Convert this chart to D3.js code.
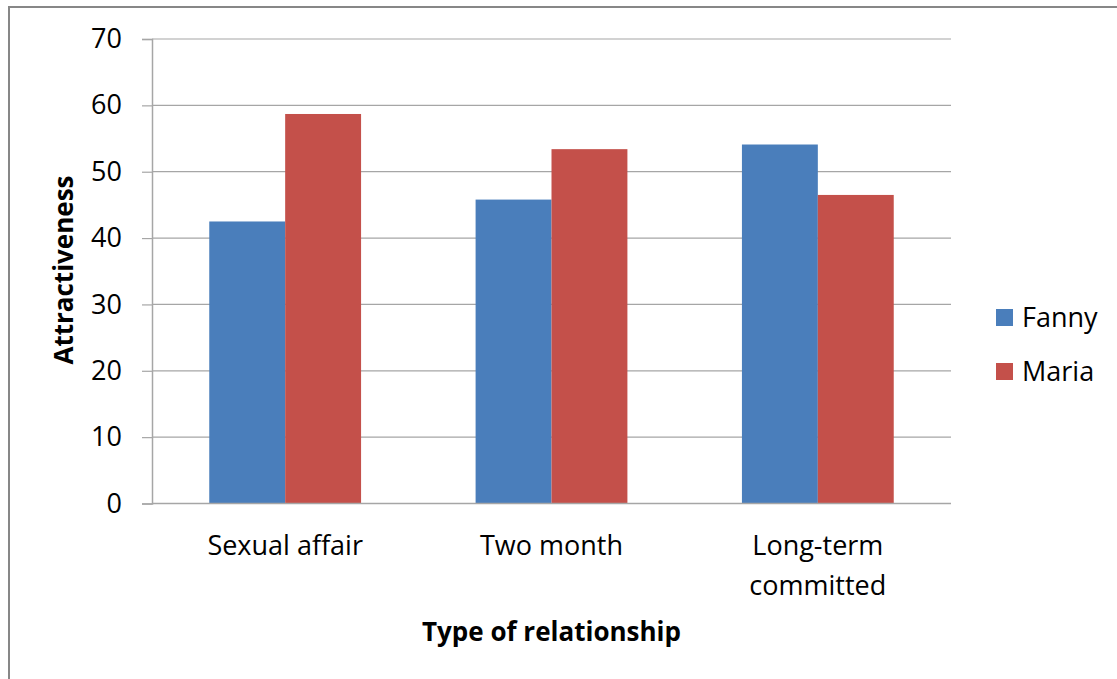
<!DOCTYPE html>
<html>
<head>
<meta charset="utf-8">
<script src="https://cdn.jsdelivr.net/npm/d3@7"></script>
<style>
  html, body { margin: 0; padding: 0; background: #fff; }
  svg { display: block; font-family: "Open Sans", sans-serif; }
</style>
</head>
<body>
<svg id="chart" width="1117" height="679"></svg>
<script>
const categories = ["Sexual affair", "Two month", "Long-term committed"];
const categoryLines = [["Sexual affair"], ["Two month"], ["Long-term", "committed"]];
const seriesNames = ["Fanny", "Maria"];
const fannyValues = [42.5, 45.8, 54.1];
const mariaValues = [58.7, 53.4, 46.5];
const yTicks = [0, 10, 20, 30, 40, 50, 60, 70];
const colors = ["#4A7EBB", "#C4504A"];

const FONT = "'Open Sans', sans-serif";
const FS = 27;
const FSB = 26;

const seriesValues = [fannyValues, mariaValues];
const svg = d3.select("#chart");

const plot = { left: 152, right: 951, top: 39, bottom: 503.5 };

// outer chart border
svg.append("rect")
  .attr("x", 9).attr("y", 7)
  .attr("width", 1200).attr("height", 800)
  .attr("fill", "none").attr("stroke", "#878787").attr("stroke-width", 2);

const x0 = d3.scaleBand()
  .domain(categories)
  .range([plot.left, plot.right])
  .paddingInner(0.43)
  .paddingOuter(0.215);

const x1 = d3.scaleBand()
  .domain(seriesNames)
  .range([0, x0.bandwidth()])
  .padding(0);

const y = d3.scaleLinear().domain([0, 70]).range([plot.bottom, plot.top]);

// gridlines
svg.append("g")
  .selectAll("line")
  .data(yTicks.filter(d => d > 0))
  .join("line")
  .attr("x1", plot.left).attr("x2", plot.right)
  .attr("y1", d => y(d)).attr("y2", d => y(d))
  .attr("stroke", "#A6A6A6").attr("stroke-width", 1.2);

// bars
const groups = svg.append("g")
  .selectAll("g")
  .data(categories)
  .join("g")
  .attr("transform", d => `translate(${x0(d)},0)`);

groups.selectAll("rect")
  .data((c, i) => seriesNames.map((s, j) => ({ s, j, v: seriesValues[j][i] })))
  .join("rect")
  .attr("x", d => x1(d.s))
  .attr("y", d => y(d.v))
  .attr("width", x1.bandwidth())
  .attr("height", d => y(0) - y(d.v))
  .attr("fill", d => colors[d.j]);

// y axis
const yAxis = d3.axisLeft(y).tickValues(yTicks).tickSize(10).tickPadding(20).tickFormat(d3.format("d"));
const yg = svg.append("g").attr("transform", `translate(${plot.left},0)`).call(yAxis);
yg.select(".domain").attr("stroke", "#A6A6A6").attr("stroke-width", 1.5);
yg.selectAll(".tick line").attr("stroke", "#A6A6A6").attr("stroke-width", 1.2);
yg.selectAll(".tick text")
  .attr("font-family", FONT)
  .attr("font-size", FS).attr("fill", "#000");

// x axis line
const xAxis = d3.axisBottom(x0).tickSize(0).tickFormat(() => "");
const xg = svg.append("g").attr("transform", `translate(0,${plot.bottom})`).call(xAxis);
xg.select(".domain").attr("stroke", "#A6A6A6").attr("stroke-width", 1.5)
  .attr("d", `M${plot.left},0H${plot.right}`);

// category labels
const labelG = svg.append("g");
categories.forEach((c, i) => {
  const cx = x0(c) + x0.bandwidth() / 2;
  const t = labelG.append("text")
    .attr("x", cx).attr("y", 555)
    .attr("text-anchor", "middle")
    .attr("font-family", FONT)
    .attr("font-size", FS).attr("fill", "#000");
  categoryLines[i].forEach((line, k) => {
    t.append("tspan").attr("x", cx).attr("dy", k === 0 ? 0 : 40).text(line);
  });
});

// axis titles
svg.append("text")
  .attr("x", (plot.left + plot.right) / 2).attr("y", 641)
  .attr("text-anchor", "middle")
  .attr("font-family", FONT)
  .attr("font-size", FSB).attr("font-weight", "bold").attr("fill", "#000")
  .text("Type of relationship");

svg.append("text")
  .attr("transform", `translate(73,270) rotate(-90)`)
  .attr("text-anchor", "middle")
  .attr("font-family", FONT)
  .attr("font-size", FSB).attr("font-weight", "bold").attr("fill", "#000")
  .text("Attractiveness");

// legend
const legend = svg.append("g");
seriesNames.forEach((s, i) => {
  const ly = 309 + i * 54;
  legend.append("rect")
    .attr("x", 996).attr("y", ly).attr("width", 17).attr("height", 17)
    .attr("fill", colors[i]);
  legend.append("text")
    .attr("x", 1022).attr("y", ly + 18)
    .attr("font-family", FONT)
    .attr("font-size", FS).attr("fill", "#000")
    .text(s);
});
</script>
</body>
</html>
